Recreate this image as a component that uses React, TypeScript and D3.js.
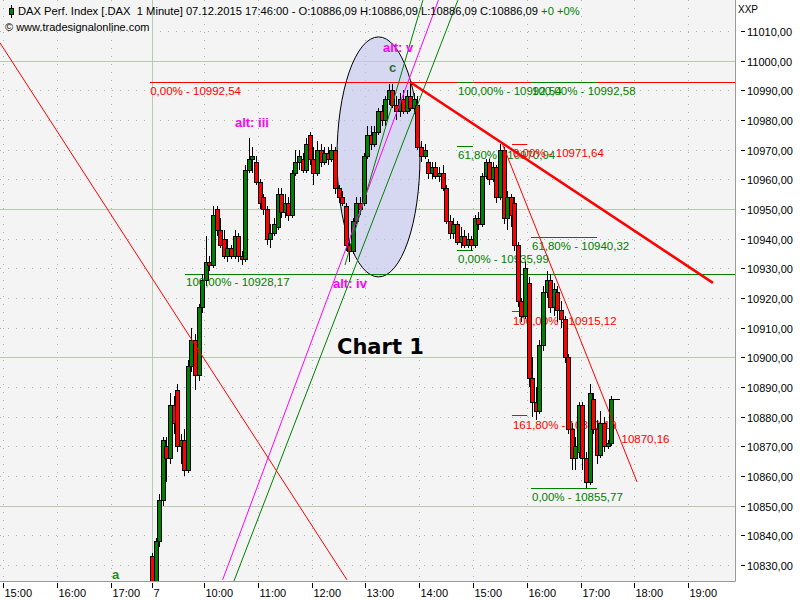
import React from "react";
import * as d3 from "d3";

// ---------- data ----------
const priceTicks = [10830, 10840, 10850, 10860, 10870, 10880, 10890, 10900, 10910, 10920, 10930, 10940, 10950, 10960, 10970, 10980, 10990, 11000, 11010];
const solidPriceLines = [10850, 10900, 10950, 11000];
// minutes relative to 07.12.2015 09:00 (previous session compressed to the left)
const timeTicks = [-164, -104, -44, 2, 60, 120, 180, 240, 300, 360, 420, 480, 540, 600];
const timeTickLabels = ["15:00", "16:00", "17:00", "7", "10:00", "11:00", "12:00", "13:00", "14:00", "15:00", "16:00", "17:00", "18:00", "19:00"];
const dayBreakMinute = 2;

const barStartMinute = 2;
const barMinutes = 4;
// [open, high, low, close]
const candles: [number, number, number, number][] = [
  [10833, 10834, 10818, 10820], [10820, 10839, 10818, 10838], [10838, 10854, 10836, 10852], [10852, 10873, 10850, 10872],
  [10870, 10873, 10858, 10866], [10866, 10888, 10864, 10884], [10884, 10887, 10874, 10878], [10889, 10891, 10868, 10870],
  [10870, 10874, 10864, 10872], [10872, 10876, 10860, 10862], [10862, 10899, 10861, 10897], [10897, 10910, 10895, 10906],
  [10906, 10908, 10889, 10894], [10894, 10918, 10892, 10917], [10917, 10928, 10915, 10926], [10926, 10941, 10924, 10932],
  [10932, 10934, 10929, 10931], [10931, 10951, 10930, 10948], [10950, 10951, 10941, 10943], [10943, 10947, 10937, 10938],
  [10940, 10943, 10933, 10934], [10934, 10940, 10932, 10937], [10937, 10938, 10933, 10934], [10934, 10943, 10933, 10941],
  [10941, 10942, 10932, 10934], [10934, 10936, 10931, 10933], [10933, 10965, 10932, 10963], [10963, 10974, 10962, 10967],
  [10967, 10971, 10962, 10968], [10966, 10968, 10958, 10959], [10959, 10960, 10950, 10952], [10954, 10955, 10948, 10950],
  [10950, 10951, 10938, 10940], [10940, 10945, 10937, 10942], [10942, 10947, 10941, 10945], [10944, 10957, 10943, 10955],
  [10955, 10957, 10947, 10949], [10949, 10955, 10947, 10952], [10952, 10954, 10946, 10948], [10948, 10963, 10947, 10962],
  [10962, 10970, 10961, 10966], [10966, 10970, 10963, 10968], [10967, 10969, 10962, 10963], [10963, 10974, 10962, 10972],
  [10975, 10976, 10965, 10967], [10967, 10971, 10958, 10962], [10962, 10973, 10961, 10970], [10970, 10972, 10964, 10966],
  [10966, 10971, 10965, 10969], [10969, 10971, 10965, 10967], [10967, 10972, 10966, 10970], [10970, 10971, 10955, 10957],
  [10957, 10958, 10952, 10954], [10954, 10956, 10951, 10952], [10951, 10952, 10936, 10938], [10938, 10940, 10932, 10936],
  [10936, 10947, 10935, 10946], [10946, 10954, 10945, 10952], [10952, 10954, 10948, 10950], [10952, 10969, 10951, 10968],
  [10968, 10978, 10967, 10975], [10975, 10978, 10970, 10972], [10972, 10978, 10971, 10976], [10976, 10984, 10975, 10983],
  [10983, 10985, 10978, 10980], [10980, 10988, 10978, 10987], [10987, 10992, 10985, 10990], [10990, 10992, 10984, 10985],
  [10985, 10988, 10980, 10983], [10983, 10989, 10981, 10987], [10987, 10990, 10982, 10983], [10983, 10990, 10982, 10988],
  [10988, 10993, 10983, 10984], [10984, 10989, 10982, 10987], [10985, 10988, 10970, 10971], [10971, 10973, 10966, 10968],
  [10968, 10972, 10967, 10970], [10966, 10967, 10960, 10962], [10962, 10966, 10960, 10964], [10964, 10966, 10960, 10961],
  [10961, 10964, 10959, 10962], [10962, 10965, 10956, 10957], [10957, 10958, 10945, 10946], [10946, 10948, 10940, 10942],
  [10942, 10947, 10940, 10945], [10945, 10946, 10938, 10939], [10939, 10944, 10937, 10941], [10941, 10943, 10937, 10938],
  [10938, 10942, 10937, 10940], [10940, 10941, 10936, 10938], [10938, 10948, 10937, 10947], [10947, 10949, 10943, 10945],
  [10945, 10962, 10944, 10961], [10961, 10967, 10960, 10966], [10966, 10967, 10958, 10960], [10960, 10966, 10959, 10964],
  [10964, 10965, 10952, 10954], [10954, 10972, 10953, 10970], [10970, 10971, 10945, 10947], [10947, 10956, 10943, 10954],
  [10954, 10955, 10944, 10948], [10952, 10954, 10936, 10938], [10938, 10939, 10917, 10919], [10919, 10920, 10912, 10914],
  [10914, 10932, 10913, 10930], [10925, 10927, 10890, 10893], [10893, 10900, 10880, 10885], [10885, 10890, 10879, 10882],
  [10882, 10906, 10881, 10904], [10904, 10924, 10902, 10922], [10922, 10929, 10920, 10926], [10926, 10928, 10915, 10917],
  [10917, 10925, 10914, 10923], [10922, 10924, 10912, 10916], [10916, 10919, 10910, 10913], [10913, 10914, 10898, 10900],
  [10900, 10901, 10874, 10876], [10876, 10878, 10862, 10866], [10866, 10873, 10862, 10870], [10868, 10885, 10866, 10884],
  [10884, 10885, 10862, 10866], [10866, 10868, 10856, 10858], [10858, 10891, 10857, 10888], [10886, 10888, 10874, 10876],
  [10876, 10879, 10864, 10867], [10867, 10882, 10866, 10878], [10878, 10880, 10868, 10870], [10870, 10872, 10869, 10871],
  [10871, 10887, 10870, 10886.09],
];
const lastPriceMarkerMinutes = 10;

// trend lines: [minute, price] pairs
const longRedLine: [number, number][] = [[-167.5, 11006], [219.4, 10825]];
const magentaLine: [number, number][] = [[80.8, 10825], [321.4, 11020.4]];
const greenChannel1: [number, number][] = [[93.4, 10824.6], [343.1, 11020.4]];
const greenChannel2: [number, number][] = [[217.2, 10931.1], [304.1, 11020.4]];
const thickRedLine: [number, number][] = [[289.7, 10992.8], [627.5, 10925.1]];
const redTrend2: [number, number][] = [[392.2, 10972.3], [542.8, 10858.0]];
const redTrend2Value = 10870.16;
const redTrend2LabelMinute = 525.5;

// ellipse bounding box [minute, price]
const ellipseBox: [number, number][] = [[208.3, 10927.1], [300.8, 11008]];

// fibonacci tools
const fibGreen1Span = [342.1, 359.9];
const fibGreen1Pcts = ["100,00%", "61,80%", "0,00%"];
const fibGreen1Levels = [10992.54, 10970.94, 10935.99];

const fibRedSpan = [403.4, 420.1];
const fibRedPcts = ["0,00%", "100,00%", "161,80%"];
const fibRedLevels = [10971.64, 10915.12, 10880.19];

const fibGreen2Span = [424.6, 498.2];
const fibGreen2Pcts = ["100,00%", "61,80%", "0,00%"];
const fibGreen2Levels = [10992.58, 10940.32, 10855.77];

const fibGreen3Start = 38.8;
const fibGreen3Pct = "100,00%";
const fibGreen3Level = 10928.17;

const fibRed2Start = 0;
const fibRed2Pct = "0,00%";
const fibRed2Level = 10992.54;

// wave labels
const waveLabels = ["alt: iii", "alt: iv", "alt: v", "c", "a"];
const waveMinutes = [94.5, 203.8, 259.5, 266.3, -42.6];
const wavePrices = [10977.6, 10923.3, 11002.9, 10996.2, 10825.3];
const waveKinds = ["alt", "alt", "alt", "c", "a"];

const chartTitleMinute = 208.3;
const chartTitlePrice = 10901.1;

// ---------- layout ----------
const W = 800;
const H = 600;
const PR = 735.5; // plot right
const PB = 581.5; // plot bottom

const fmt = (v: number) => v.toFixed(2).replace(".", ",");

export default function App() {
  const x = d3.scaleLinear().domain([0, 600]).range([150.2, 688.3]);
  const y = d3.scaleLinear().domain([10830, 11010]).range([565, 31]);
  const line = d3.line<[number, number]>().x((d) => x(d[0])).y((d) => y(d[1]));
  const fy = (v: number) => Math.round(y(v)) - 0.5; // pixel row for fib lines

  const font = "'Liberation Sans', Arial, sans-serif";
  const gridDot = "#a9b5a6";
  const gridSolid = "#b7c9b1";
  const green = "#008000";
  const red = "#ff0000";
  const fibFont = 11.5;

  const fibBlock = (span: number[], pcts: string[], levels: number[], color: string, key: string) => (
    <g key={key}>
      {levels.map((lv, i) => (
        <g key={i}>
          <line x1={x(span[0])} x2={x(span[1])} y1={fy(lv)} y2={fy(lv)} stroke={color} strokeWidth={1.2} shapeRendering="crispEdges" />
          <text x={x(span[0]) + 1} y={y(lv) + 12.5} fill={color} fontSize={fibFont} fontFamily={font}>
            {pcts[i]} - {fmt(lv)}
          </text>
        </g>
      ))}
    </g>
  );

  const [ex1, ex2] = [x(ellipseBox[0][0]), x(ellipseBox[1][0])];
  const [ey1, ey2] = [y(ellipseBox[1][1]), y(ellipseBox[0][1])];

  return (
    <svg width={W} height={H} style={{ position: "absolute", left: 0, top: 0, display: "block" }} xmlns="http://www.w3.org/2000/svg">
      <defs>
        <clipPath id="plot">
          <rect x={0} y={0} width={PR} height={PB} />
        </clipPath>
      </defs>
      <rect x={0} y={0} width={W} height={H} fill="#ffffff" />
      <rect x={0} y={0} width={PR} height={PB} fill="#f4f4f4" />

      <g clipPath="url(#plot)">
        {/* horizontal grid */}
        {priceTicks.map((p) => {
          const yy = Math.round(y(p)) + 0.5;
          const solid = solidPriceLines.includes(p);
          return (
            <line key={p} x1={0} x2={PR} y1={yy} y2={yy} stroke={solid ? gridSolid : gridDot} strokeWidth={1}
              strokeDasharray={solid ? undefined : "1,7"} shapeRendering="crispEdges" />
          );
        })}
        {/* vertical grid */}
        {timeTicks.map((t, i) => {
          const xx = Math.round(x(t)) + 0.5;
          const solid = t === dayBreakMinute;
          return (
            <line key={i} x1={xx} x2={xx} y1={0} y2={PB} stroke={solid ? gridSolid : gridDot} strokeWidth={1}
              strokeDasharray={solid ? undefined : "1,7"} shapeRendering="crispEdges" />
          );
        })}

        {/* ellipse */}
        <ellipse cx={(ex1 + ex2) / 2} cy={(ey1 + ey2) / 2} rx={(ex2 - ex1) / 2} ry={(ey2 - ey1) / 2}
          fill="#c4c6f0" fillOpacity={0.62} stroke="#000" strokeWidth={1} />

        {/* long horizontal fib lines */}
        <line x1={x(fibRed2Start)} x2={PR} y1={fy(fibRed2Level)} y2={fy(fibRed2Level)} stroke={red} strokeWidth={1.2} shapeRendering="crispEdges" />
        <text x={x(fibRed2Start)} y={y(fibRed2Level) + 12} fill={red} fontSize={fibFont} fontFamily={font}>
          {fibRed2Pct} - {fmt(fibRed2Level)}
        </text>
        <line x1={x(fibGreen3Start)} x2={PR} y1={Math.round(y(fibGreen3Level)) + 0.5} y2={Math.round(y(fibGreen3Level)) + 0.5} stroke={green} strokeWidth={1} shapeRendering="crispEdges" />

        {fibBlock(fibGreen1Span, fibGreen1Pcts, fibGreen1Levels, green, "f1")}
        {fibBlock(fibRedSpan, fibRedPcts, fibRedLevels, red, "f2")}
        {fibBlock(fibGreen2Span, fibGreen2Pcts, fibGreen2Levels, green, "f3")}

        {/* candles */}
        {candles.map((c, i) => {
          const [o, h, l, cl] = c;
          const cx = Math.round(x(barStartMinute + i * barMinutes));
          const up = cl >= o;
          const top = Math.round(y(Math.max(o, cl)));
          const bot = Math.round(y(Math.min(o, cl)));
          return (
            <g key={i} shapeRendering="crispEdges">
              <line x1={cx + 0.5} x2={cx + 0.5} y1={y(h)} y2={y(l)} stroke="#000" strokeWidth={1} />
              <rect x={cx - 1.5} y={top + 0.5} width={4} height={Math.max(1, bot - top)} fill={up ? green : red} stroke="#000" strokeWidth={1} />
            </g>
          );
        })}
        {(() => {
          const n = candles.length - 1;
          const t = barStartMinute + n * barMinutes;
          const yy = Math.round(y(candles[n][3])) + 0.5;
          return <line x1={x(t) + 2} x2={x(t + lastPriceMarkerMinutes)} y1={yy} y2={yy} stroke="#000" strokeWidth={1} shapeRendering="crispEdges" />;
        })()}

        <text x={x(fibGreen3Start) + 1} y={y(fibGreen3Level) + 12.5} fill={green} fontSize={fibFont} fontFamily={font}>
          {fibGreen3Pct} - {fmt(fibGreen3Level)}
        </text>

        {/* trend lines */}
        <path d={line(longRedLine) || ""} stroke={red} strokeWidth={1} fill="none" />
        <path d={line(magentaLine) || ""} stroke="#ff00ff" strokeWidth={1} fill="none" />
        <path d={line(greenChannel1) || ""} stroke={green} strokeWidth={1} fill="none" />
        <path d={line(greenChannel2) || ""} stroke={green} strokeWidth={1} fill="none" />
        <path d={line(redTrend2) || ""} stroke={red} strokeWidth={1} fill="none" />
        <path d={line(thickRedLine) || ""} stroke={red} strokeWidth={2.6} fill="none" />
        <text x={x(redTrend2LabelMinute)} y={y(redTrend2Value) - 3} fill={red} fontSize={fibFont} fontFamily={font}>
          {fmt(redTrend2Value)}
        </text>

        {/* wave labels */}
        {waveLabels.map((s, i) => (
          <text key={i} x={x(waveMinutes[i])} y={y(wavePrices[i])}
            fill={waveKinds[i] === "alt" ? "#ff00ff" : waveKinds[i] === "c" ? "#2f6f2f" : "#1f8f1f"}
            fontSize={13} fontWeight="bold" fontFamily={font}>
            {s}
          </text>
        ))}
        <text x={x(chartTitleMinute)} y={y(chartTitlePrice)} fill="#000" fontSize={21} fontWeight="bold" fontFamily="'DejaVu Sans', sans-serif">
          Chart 1
        </text>
      </g>

      {/* frame */}
      <line x1={PR} x2={PR} y1={0} y2={PB} stroke="#9a9a9a" strokeWidth={1} />
      <line x1={0} x2={PR} y1={PB} y2={PB} stroke="#9a9a9a" strokeWidth={1} />

      {/* right axis */}
      <text x={738} y={13} fontSize={10} fontFamily={font} fill="#000">XXP</text>
      {priceTicks.map((p) => {
        const yy = Math.round(y(p)) + 0.5;
        return (
          <g key={p}>
            <line x1={741} x2={745} y1={yy} y2={yy} stroke="#000" strokeWidth={1} shapeRendering="crispEdges" />
            <text x={747} y={yy + 4} fontSize={11} fontFamily={font} fill="#000">{fmt(p)}</text>
          </g>
        );
      })}

      {/* bottom axis */}
      {timeTicks.map((t, i) => {
        const xx = Math.round(x(t)) + 0.5;
        return (
          <g key={i}>
            <line x1={xx} x2={xx} y1={583} y2={588} stroke="#000" strokeWidth={1} shapeRendering="crispEdges" />
            <text x={xx + 1} y={597} fontSize={11} fontFamily={font} fill="#000">{timeTickLabels[i]}</text>
          </g>
        );
      })}

      {/* header */}
      <line x1={11.5} x2={11.5} y1={5} y2={18} stroke="#000" strokeWidth={1} />
      <rect x={9.5} y={8.5} width={4} height={6} fill={green} stroke="#000" strokeWidth={1} />
      <text x={18} y={15} fontSize={11.2} fontFamily={font} fill="#000">
        DAX Perf. Index [.DAX{"\u00a0\u00a0"}1 Minute] 07.12.2015 17:46:00 - O:10886,09 H:10886,09 L:10886,09 C:10886,09{" "}
        <tspan fill={green}>+0 +0%</tspan>
      </text>
      <text x={5} y={31} fontSize={11} fontFamily={font} fill="#000">© www.tradesignalonline.com</text>
    </svg>
  );
}
